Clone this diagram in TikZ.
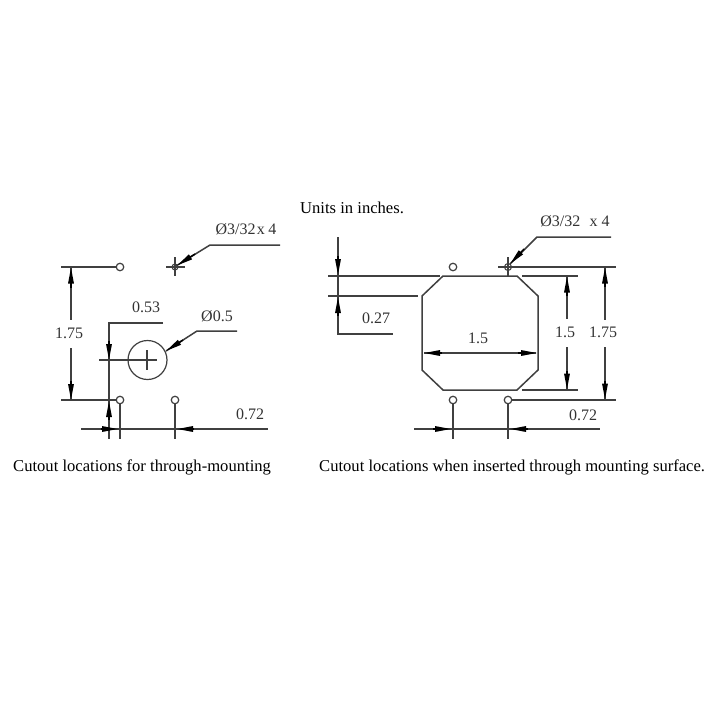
\documentclass[tikz,border=0pt]{standalone}
\usepackage{fontspec}
\setmainfont{Liberation Serif}
\usetikzlibrary{arrows.meta}
\tikzset{
  ln/.style={draw=black!75,line width=1.5pt},
  thin ln/.style={draw=black!75,line width=1.5pt},
  dimhead/.style={line width=1.5pt,draw=black,-{Triangle[length=16pt,width=5.5pt]}},
  hole/.style={circle,draw=black!75,fill=white,line width=1.2pt,minimum size=7.5pt,inner sep=0pt},
  dim/.style={font=\fontsize{16}{18}\selectfont,text=black!80,inner sep=0pt},
  caption/.style={font=\fontsize{16.6}{18}\selectfont,text=black,inner sep=0pt}
}
\begin{document}
\begin{tikzpicture}[x=1pt,y=-1pt]
\useasboundingbox (0,0) rectangle (720,720);
\fill[white] (0,0) rectangle (720,720);

% ---- left drawing
\draw[ln] (61,267) -- (116,267);
\draw[ln] (61,400) -- (116,400);
\draw[ln] (71,267) -- (71,320);
\draw[ln] (71,348) -- (71,400);
\draw[dimhead] (71,288) -- (71,267.5);
\draw[dimhead] (71,381) -- (71,400);
\node[dim] (lh) at (69,333.5) {1.75};

\node[hole] (l1) at (120,267) {};
\node[hole] (l3) at (120,400) {};
\node[hole] (l4) at (175,400) {};
\draw[thin ln] (166,267) -- (185,267);
\draw[thin ln] (175,257) -- (175,276);
\draw[thin ln,line width=1pt] (175,267) circle (3);
\draw[ln] (176,266) -- (210,245) -- (280,245);
\draw[dimhead] (195,254) -- (177,265.5);
\node[dim] (lt) at (246,229) {Ø3/32{\kern1.5pt}x{\kern3.5pt}4};

\draw[ln] (163,323) -- (109,323) -- (109,439);
\draw[dimhead] (109,341) -- (109,360);
\draw[dimhead] (109,420) -- (109,401);
\node[dim] (la) at (146,307) {0.53};
\draw[ln] (99,360) -- (157,360);
\draw[thin ln] (147,350) -- (147,370);
\draw[thin ln,line width=1.2pt] (147.5,360) circle (19.5);
\draw[ln] (166,351) -- (197,331) -- (237,331);
\draw[dimhead] (183,340) -- (166,351);
\node[dim] (lc) at (217,316) {Ø0.5};

\draw[ln] (l3.south) -- (120,439);
\draw[ln] (l4.south) -- (175,439);
\draw[ln] (81,429) -- (268,429);
\draw[dimhead] (101,429) -- (118,429);
\draw[dimhead] (194,429) -- (177,429);
\node[dim] (lw) at (250,414) {0.72};

% ---- right drawing
\draw[thin ln] (443,276) -- (517,276) -- (538,296) -- (538,370) -- (517,390) -- (443,390) -- (422,370) -- (422,296) -- cycle;
\draw[ln] (328,276) -- (440,276);
\draw[ln] (328,296) -- (418,296);
\draw[ln] (338,237) -- (338,334) -- (393,334);
\draw[dimhead] (338,256) -- (338,275);
\draw[dimhead] (338,316) -- (338,297);
\node[dim] (r27) at (376,318) {0.27};

\node[hole] (r1) at (453,267) {};
\node[hole] (r3) at (453,400) {};
\node[hole] (r4) at (508,400) {};
\draw[thin ln,line width=1pt] (508,267) circle (3.5);
\draw[ln] (498,267) -- (616,267);
\draw[ln] (508,257) -- (508,276);
\draw[ln] (510,264) -- (537,237) -- (611,237);
\draw[dimhead] (524,249) -- (510,264);
\node[dim] (rt) at (575,221) {Ø3/32\,\, x 4};

\draw[ln] (424,353) -- (536,353);
\draw[dimhead] (442,353) -- (424,353);
\draw[dimhead] (518,353) -- (537,353);
\node[dim] (r15a) at (478,338) {1.5};

\draw[ln] (522,276) -- (578,276);
\draw[ln] (522,390) -- (578,390);
\draw[ln] (567,276) -- (567,319);
\draw[ln] (567,347) -- (567,390);
\draw[dimhead] (567,296) -- (567,276.5);
\draw[dimhead] (567,371) -- (567,389.5);
\node[dim] (r15b) at (565,332.5) {1.5};

\draw[ln] (605,267) -- (605,320);
\draw[ln] (605,347) -- (605,400);
\draw[dimhead] (605,287) -- (605,267.5);
\draw[dimhead] (605,381) -- (605,399.5);
\node[dim] (r175) at (603,332.5) {1.75};

\draw[ln] (r4.east) -- (616,400);
\draw[ln] (r3.south) -- (453,439);
\draw[ln] (r4.south) -- (508,439);
\draw[ln] (414,429) -- (600,429);
\draw[dimhead] (433,429) -- (451,429);
\draw[dimhead] (528,429) -- (510,429);
\node[dim] (r72) at (583,415) {0.72};

% ---- captions
\node[caption,anchor=base west] (units) at (300,213) {Units in inches.};
\node[caption,anchor=base west] (capl) at (13,471) {Cutout locations for through-mounting};
\node[caption,anchor=base west] (capr) at (319,471) {Cutout locations when inserted through mounting surface.};
\end{tikzpicture}
\end{document}
